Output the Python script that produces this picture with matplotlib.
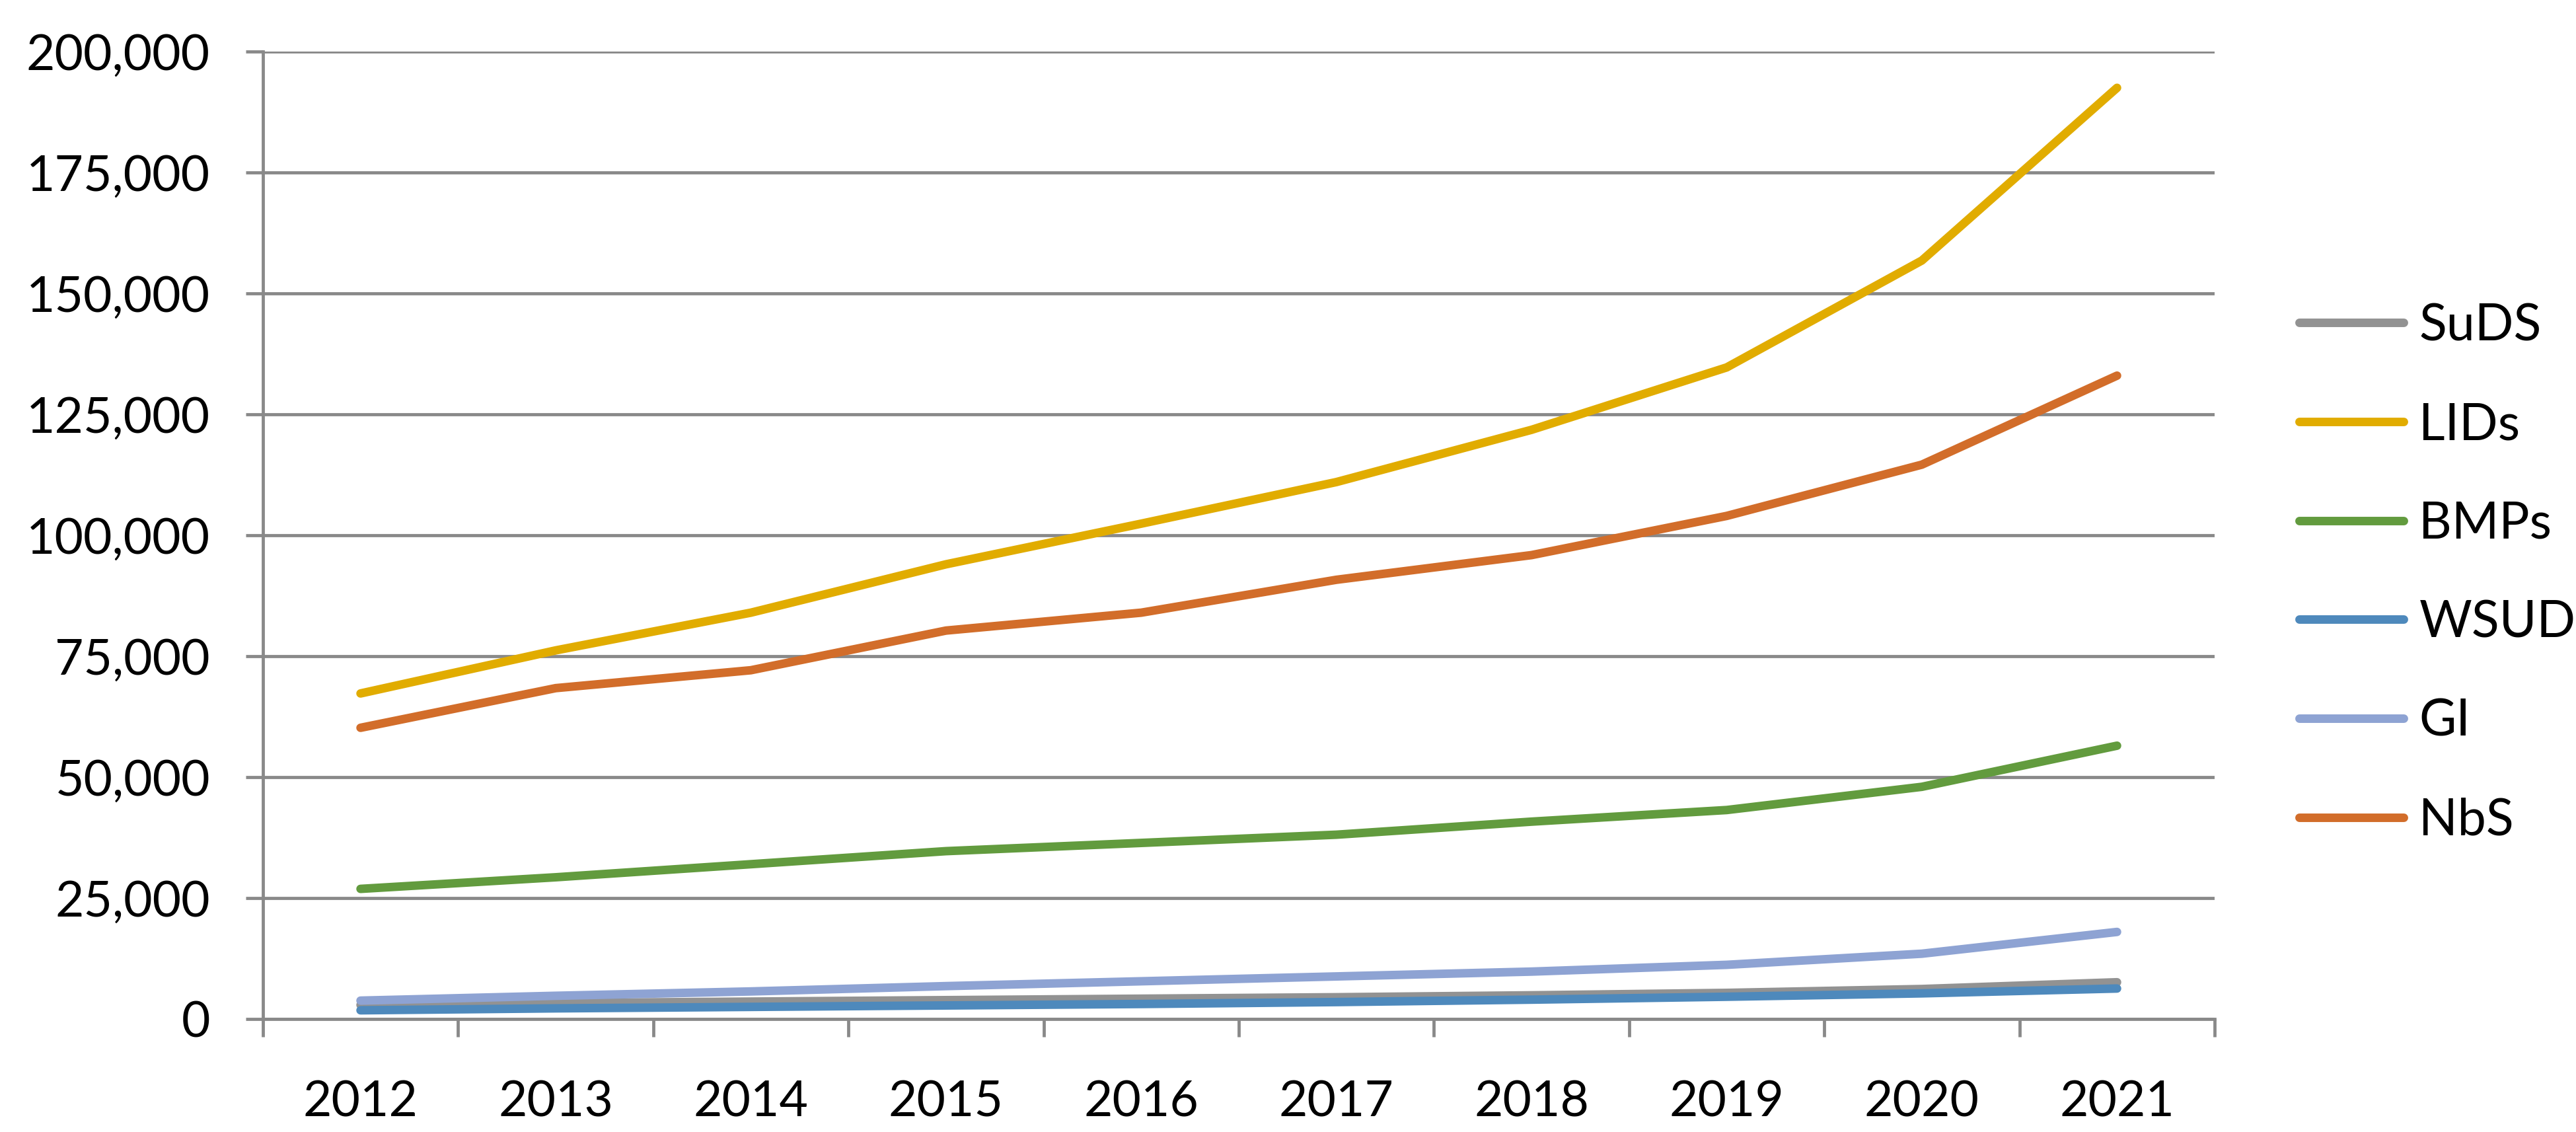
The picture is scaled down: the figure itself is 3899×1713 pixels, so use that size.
import matplotlib
matplotlib.use("Agg")
import matplotlib.pyplot as plt
import numpy as np
from matplotlib.ticker import FuncFormatter, FixedLocator

plt.rcParams['font.family'] = ['Lato', 'DejaVu Sans']

years = ['2012', '2013', '2014', '2015', '2016', '2017', '2018', '2019', '2020', '2021']
suds = [2900, 3300, 3600, 3900, 4200, 4500, 4900, 5400, 6200, 7600]
lids = [67300, 76200, 84000, 94000, 102400, 111000, 121800, 134700, 156800, 192500]
bmps = [26900, 29300, 32000, 34700, 36400, 38100, 40800, 43200, 48000, 56500]
wsud = [1800, 2200, 2500, 2800, 3100, 3500, 4000, 4600, 5300, 6300]
gi = [3800, 4800, 5700, 6800, 7800, 8800, 9800, 11200, 13500, 18000]
nbs = [60200, 68400, 72100, 80300, 84000, 90800, 95900, 104000, 114600, 133000]

series = [
    ('SuDS', suds, '#929292'),
    ('LIDs', lids, '#E1AC00'),
    ('BMPs', bmps, '#629B3E'),
    ('WSUD', wsud, '#4E89BC'),
    ('GI', gi, '#8EA3D3'),
    ('NbS', nbs, '#D26D2A'),
]

W, H = 3899, 1713
dpi = 300
fig = plt.figure(figsize=(W / dpi, H / dpi), dpi=dpi)
ax = fig.add_axes([398 / W, 1 - 1542 / H, (3352 - 398) / W, (1542 - 78) / H])

x = np.arange(len(years)) + 0.5
axis_color = '#898989'
lw_axis = 1.15

for name, vals, col in series:
    ax.plot(x, vals, color=col, lw=3.1, solid_capstyle='round',
            solid_joinstyle='round', label=name, zorder=3)

ax.set_xlim(0, len(years))
ax.set_ylim(0, 200000)
ax.set_yticks(np.arange(0, 200001, 25000))
ax.yaxis.set_major_formatter(FuncFormatter(lambda v, p: f"{int(v):,}"))
ax.grid(axis='y', color=axis_color, lw=lw_axis, zorder=1)
ax.set_axisbelow(True)

ax.xaxis.set_major_locator(FixedLocator(np.arange(0, len(years) + 1)))
ax.xaxis.set_major_formatter(FuncFormatter(lambda v, p: ''))
ax.xaxis.set_minor_locator(FixedLocator(x))
ax.set_xticklabels(years, minor=True)

for s in ['top', 'right']:
    ax.spines[s].set_visible(False)
for s in ['left', 'bottom']:
    ax.spines[s].set_color(axis_color)
    ax.spines[s].set_linewidth(lw_axis)

ax.tick_params(axis='y', which='major', direction='out', length=6.2, width=lw_axis,
               color=axis_color, labelsize=18, pad=13, labelcolor='black')
ax.tick_params(axis='x', which='major', direction='out', length=6.5, width=lw_axis,
               color=axis_color)
ax.tick_params(axis='x', which='minor', length=0, labelsize=18, pad=22, labelcolor='black')

handles, labels = ax.get_legend_handles_labels()
leg = fig.legend(handles, labels, loc='center left',
                 bbox_to_anchor=((3473 + 6.5) / W, 1 - 868 / H),
                 frameon=False, fontsize=18.5, handlelength=2.06, handletextpad=0.3,
                 labelspacing=1.02, borderpad=0, borderaxespad=0)

fig.savefig('out.png', dpi=dpi, facecolor='white')
